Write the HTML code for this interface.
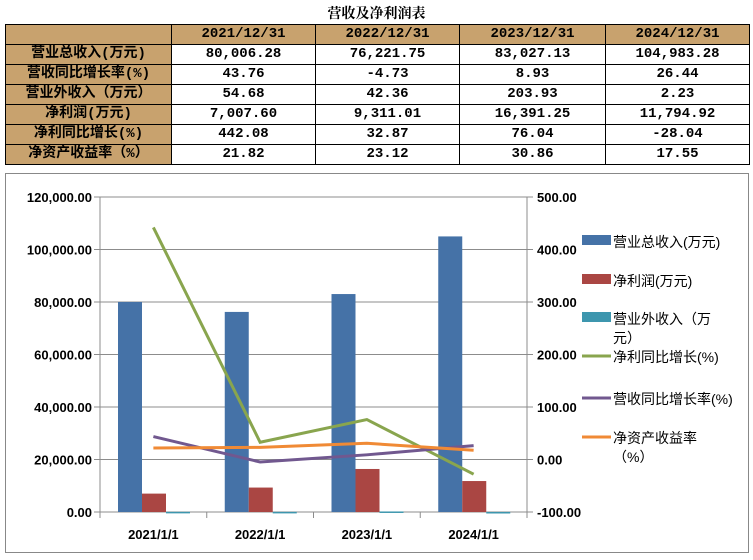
<!DOCTYPE html>
<html><head><meta charset="utf-8"><style>
body{margin:0;width:753px;height:560px;background:#fff;font-family:"Liberation Sans","Noto Sans CJK SC",sans-serif;position:relative;overflow:hidden}
.title{position:absolute;left:0;width:753px;top:3px;text-align:center;font-size:14px;font-weight:bold;font-family:"Liberation Serif","Noto Serif CJK SC",serif}
table{position:absolute;left:5px;top:24px;border-collapse:collapse;font-family:"Liberation Mono","Noto Sans CJK SC",monospace;font-size:14px;font-weight:bold}
td{border:1px solid #000;height:19px;padding:0;text-align:center;line-height:19px}
td.h{background:#c8a26e}
#chart{position:absolute;left:5px;top:173px;width:742px;height:378px;border:1px solid #888}
svg text{font-family:"Liberation Sans","Noto Sans CJK SC",sans-serif}
</style></head><body>
<div class="title">营收及净利润表</div>
<table>
<tr><td class="h" style="width:165px"></td><td class="h" style="width:143px">2021/12/31</td><td class="h" style="width:143px">2022/12/31</td><td class="h" style="width:145px">2023/12/31</td><td class="h" style="width:143px">2024/12/31</td></tr>
<tr><td class="h">营业总收入(万元)</td><td>80,006.28</td><td>76,221.75</td><td>83,027.13</td><td>104,983.28</td></tr>
<tr><td class="h">营收同比增长率(%)</td><td>43.76</td><td>-4.73</td><td>8.93</td><td>26.44</td></tr>
<tr><td class="h">营业外收入（万元）</td><td>54.68</td><td>42.36</td><td>203.93</td><td>2.23</td></tr>
<tr><td class="h">净利润(万元)</td><td>7,007.60</td><td>9,311.01</td><td>16,391.25</td><td>11,794.92</td></tr>
<tr><td class="h">净利同比增长(%)</td><td>442.08</td><td>32.87</td><td>76.04</td><td>-28.04</td></tr>
<tr><td class="h">净资产收益率（%）</td><td>21.82</td><td>23.12</td><td>30.86</td><td>17.55</td></tr>
</table>
<div id="chart"></div>
<svg id="svg" width="753" height="560" style="position:absolute;left:0;top:0"></svg>
<script>
const categories=["2021/1/1","2022/1/1","2023/1/1","2024/1/1"];
const revenue=[80006.28,76221.75,83027.13,104983.28];
const netProfit=[7007.60,9311.01,16391.25,11794.92];
const nonOpIncome=[54.68,42.36,203.93,2.23];
const profitGrowth=[442.08,32.87,76.04,-28.04];
const revGrowth=[43.76,-4.73,8.93,26.44];
const roe=[21.82,23.12,30.86,17.55];
const leftTicks=[0,20000,40000,60000,80000,100000,120000];
const rightTicks=[-100,0,100,200,300,400,500];
const NS="http://www.w3.org/2000/svg";
const svg=document.getElementById('svg');
const X0=100,X1=527,YT=197,YB=512,bw=(X1-X0)/categories.length;
const yL=v=>YB-(v/120000)*(YB-YT);
const yR=v=>YB-((v+100)/600)*(YB-YT);
const xc=i=>X0+bw*(i+0.5);
function mk(t,a){const e=document.createElementNS(NS,t);for(const k in a)e.setAttribute(k,a[k]);svg.appendChild(e);return e;}
leftTicks.forEach(v=>{
 const g=mk('line',{x1:X0-6,x2:X1+6,y1:yL(v),y2:yL(v),stroke:'#8c8c8c','stroke-width':1});
 
 const t=mk('text',{x:X0-8,y:yL(v)+5,'text-anchor':'end','font-size':13,'font-weight':'bold'});t.textContent=v.toLocaleString('en-US',{minimumFractionDigits:2});
 
});
rightTicks.forEach(v=>{
 const t=mk('text',{x:X1+10,y:yR(v)+5,'font-size':13,'font-weight':'bold'});t.textContent=v.toFixed(2);
 
});
mk('line',{x1:X0,x2:X0,y1:YT,y2:YB+6,stroke:'#8c8c8c'});
mk('line',{x1:X1,x2:X1,y1:YT,y2:YB+6,stroke:'#8c8c8c'});
for(let i=0;i<=categories.length;i++)mk('line',{x1:X0+bw*i,x2:X0+bw*i,y1:YB,y2:YB+6,stroke:'#8c8c8c'});
categories.forEach((c,i)=>{
 const t=mk('text',{x:xc(i),y:YB+27,'text-anchor':'middle','font-size':13,'font-weight':'bold'});t.textContent=c;
 
 const x0=X0+bw*i+18;
 [[revenue,'#4572a7','bar-revenue'],[netProfit,'#aa4643','bar-net-profit'],[nonOpIncome,'#3d96ae','bar-non-op-income']].forEach((s,k)=>{
  const y=yL(s[0][i]);const r=mk('rect',{x:x0+24*k,y:y,width:24,height:Math.max(YB-y,1.5),fill:s[1]});
  
 });
});
[[profitGrowth,'#89a54e','line-profit-growth'],[revGrowth,'#71588f','line-revenue-growth'],[roe,'#f08a35','line-roe']].forEach(s=>{
 const p=mk('polyline',{points:s[0].map((v,i)=>xc(i)+','+yR(v)).join(' '),fill:'none',stroke:s[1],'stroke-width':3});
 
});
const legend=[["营业总收入(万元)",'#4572a7','bar',241],["净利润(万元)",'#aa4643','bar',280],["营业外收入（万",'#3d96ae','bar',318,"元）"],["净利同比增长(%)",'#89a54e','line',356],["营收同比增长率(%)",'#71588f','line',398],["净资产收益率",'#f08a35','line',437,"（%）"]];
legend.forEach(l=>{
 if(l[2]=='bar'){const r=mk('rect',{x:582,y:l[3]-6,width:29,height:10,fill:l[1]});}
 else{const r=mk('line',{x1:582,x2:611,y1:l[3],y2:l[3],stroke:l[1],'stroke-width':3});}
 const t=mk('text',{x:613,y:l[3]+6,'font-size':14});t.textContent=l[0];
 
 if(l[4]){const t2=mk('text',{x:613,y:l[3]+25,'font-size':14});t2.textContent=l[4];}
});
</script>
</body></html>
